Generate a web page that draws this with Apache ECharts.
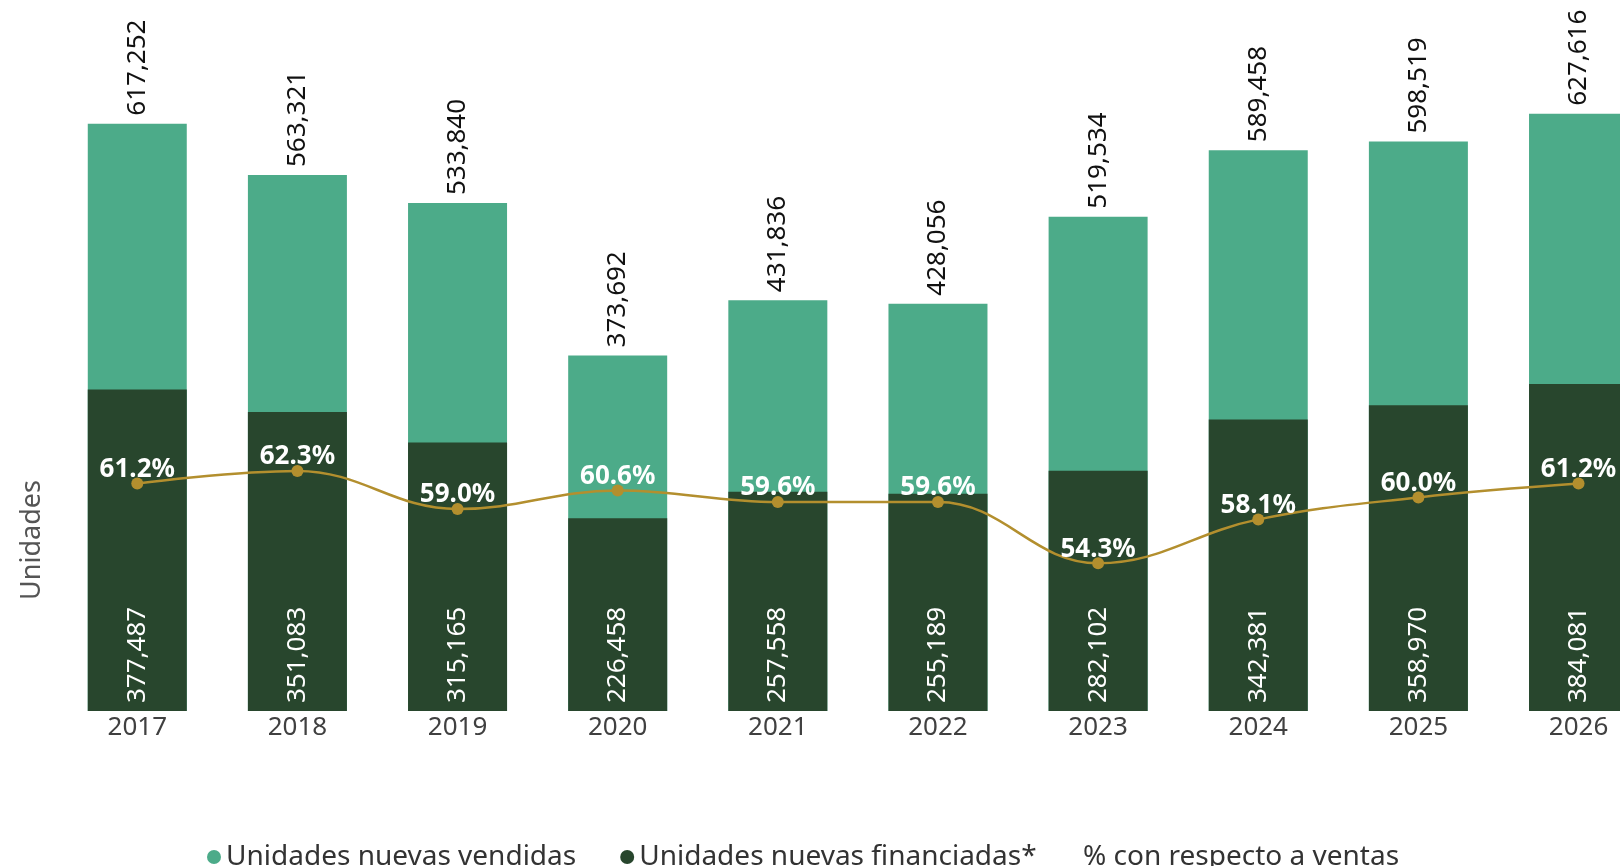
<!DOCTYPE html>
<html>
<head>
<meta charset="utf-8">
<script src="https://cdn.jsdelivr.net/npm/echarts@6/dist/echarts.min.js"></script>
<style>
html,body{margin:0;padding:0;background:#fff;}
#chart{width:1620px;height:866px;}
</style>
</head>
<body>
<div id="chart"></div>
<script>
const years = ['2017','2018','2019','2020','2021','2022','2023','2024','2025','2026'];
const vendidas = [617252, 563321, 533840, 373692, 431836, 428056, 519534, 589458, 598519, 627616];
const financiadas = [377487, 351083, 315165, 226458, 257558, 255189, 282102, 342381, 358970, 384081];
const porcentaje = [61.2, 62.3, 59.0, 60.6, 59.6, 59.6, 54.3, 58.1, 60.0, 61.2];
const seriesNames = ['Unidades nuevas vendidas', 'Unidades nuevas financiadas*', '% con respecto a ventas'];
const yAxisName = 'Unidades';

const FONT = 'Noto Sans';
const LIGHT = '#4CAB89';
const DARK = '#28462D';
const GOLD = '#B38F2E';
const fmt = v => String(v).replace(/\B(?=(\d{3})+(?!\d))/g, ',');

const chart = echarts.init(document.getElementById('chart'));
chart.setOption({
  backgroundColor: '#ffffff',
  animation: false,
  textStyle: { fontFamily: FONT },
  grid: { left: 57.2, width: 1601.4, top: 45, bottom: 155, containLabel: false, outerBoundsMode: 'none' },
  legend: [{
    left: 202, top: 838,
    itemWidth: 14, itemHeight: 14, itemGap: 44,
    icon: 'circle',
    textStyle: { fontFamily: FONT, fontSize: 28, color: '#333' },
    data: [seriesNames[0], seriesNames[1]]
  }, {
    left: 1059, top: 838,
    itemWidth: 14, itemHeight: 14,
    icon: 'none',
    textStyle: { fontFamily: FONT, fontSize: 28, color: '#333' },
    data: [{ name: seriesNames[2], icon: 'none' }]
  }],
  graphic: [{
    type: 'text',
    rotation: Math.PI / 2,
    x: 32, y: 540,
    style: { text: yAxisName, fontFamily: FONT, fontSize: 27, fill: '#555', align: 'center', verticalAlign: 'middle' }
  }],
  xAxis: {
    type: 'category',
    data: years,
    axisLine: { show: false },
    axisTick: { show: false },
    axisLabel: { fontFamily: FONT, fontSize: 26, color: '#404040', margin: 4 }
  },
  yAxis: [
    { type: 'value', min: 0, max: 700000, show: false, splitLine: { show: false } },
    { type: 'value', min: 0, max: 782000, show: false, splitLine: { show: false } },
    { type: 'value', min: 41.5, max: 99.2, show: false, splitLine: { show: false } }
  ],
  series: [{
    name: seriesNames[0],
    type: 'bar',
    yAxisIndex: 0,
    data: vendidas,
    barWidth: 99,
    barGap: '-100%',
    itemStyle: { color: LIGHT },
    label: {
      show: true, position: 'top', rotate: 90, align: 'left', verticalAlign: 'middle',
      distance: 8, fontFamily: FONT, fontSize: 26, color: '#111',
      formatter: p => fmt(p.value)
    }
  }, {
    name: seriesNames[1],
    type: 'bar',
    yAxisIndex: 1,
    data: financiadas,
    barWidth: 99,
    barGap: '-100%',
    itemStyle: { color: DARK },
    label: {
      show: true, position: 'insideBottom', rotate: 90, align: 'left', verticalAlign: 'middle',
      distance: 8, fontFamily: FONT, fontSize: 26, color: '#fff',
      formatter: p => fmt(p.value)
    }
  }, {
    name: seriesNames[2],
    type: 'line',
    yAxisIndex: 2,
    data: porcentaje,
    smooth: 0.4,
    symbol: 'circle',
    symbolSize: 12,
    z: 10,
    lineStyle: { color: GOLD, width: 2.5 },
    itemStyle: { color: GOLD },
    label: {
      show: true, position: 'top', distance: -5,
      fontFamily: FONT, fontSize: 26, fontWeight: 'bold', color: '#fff',
      formatter: p => p.value.toFixed(1) + '%'
    }
  }]
});
</script>
</body>
</html>
